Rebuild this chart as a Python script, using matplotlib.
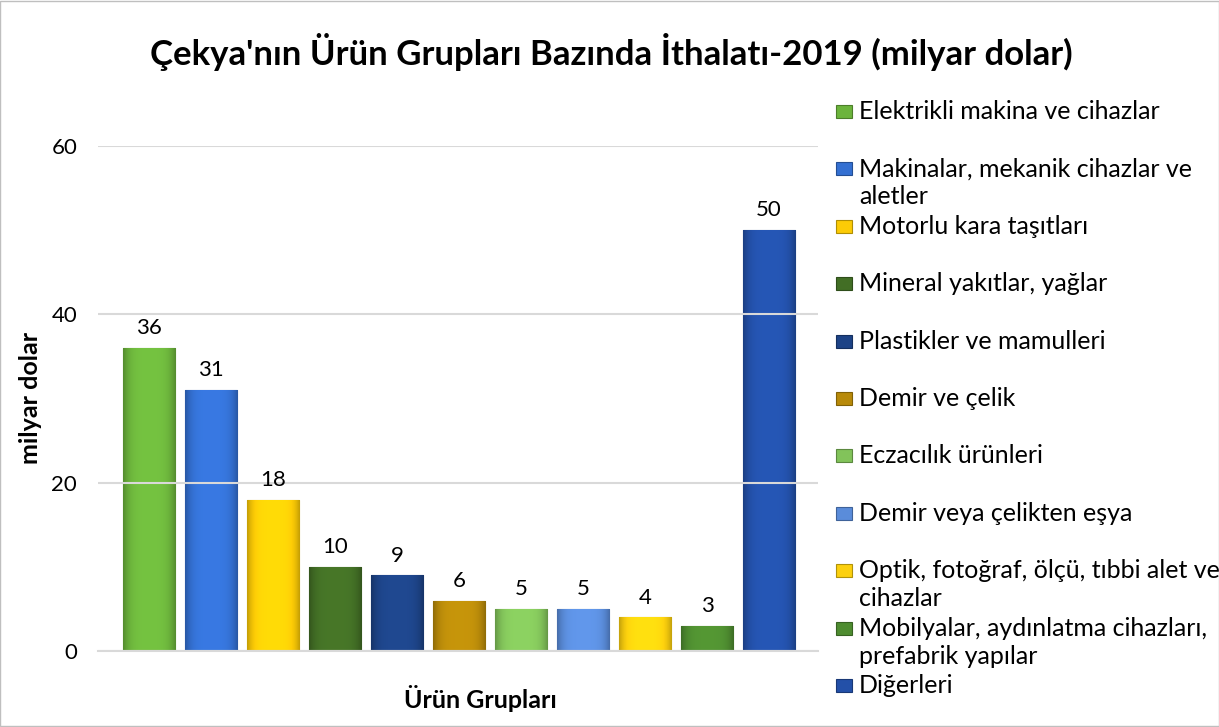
import numpy as np
import matplotlib.pyplot as plt
from matplotlib.colors import to_rgb
from matplotlib.patches import Rectangle

plt.rcParams['font.family'] = ['Lato', 'DejaVu Sans']

W, H = 1219, 727

title = "Çekya'nın Ürün Grupları Bazında İthalatı-2019 (milyar dolar)"
categories = [
    "Elektrikli makina ve cihazlar",
    "Makinalar, mekanik cihazlar ve\naletler",
    "Motorlu kara taşıtları",
    "Mineral yakıtlar, yağlar",
    "Plastikler ve mamulleri",
    "Demir ve çelik",
    "Eczacılık ürünleri",
    "Demir veya çelikten eşya",
    "Optik, fotoğraf, ölçü, tıbbi alet ve\ncihazlar",
    "Mobilyalar, aydınlatma cihazları,\nprefabrik yapılar",
    "Diğerleri",
]
values = [36, 31, 18, 10, 9, 6, 5, 5, 4, 3, 50]
colors = ['#6CB43C', '#3470D2', '#FCCB06', '#426E25', '#1D4386', '#B88A0A',
          '#82C35A', '#5A8CDA', '#FCD00E', '#4E8C30', '#2350A8']
yticks = [0, 20, 40, 60]


def fx(px):
    return px / W


def fy(py):
    return 1 - py / H


fig = plt.figure(figsize=(W / 100, H / 100), dpi=100)
ax = fig.add_axes([fx(98), fy(651), fx(720), 505 / H])

x = np.arange(len(values))
bars = ax.bar(x, values, width=0.84, color=colors, zorder=2)

# bevel-like shading: darker at the sides, lighter in the middle
t = np.linspace(-1, 1, 64)
shade = 1.08 - 0.3 * t ** 4
for b, c in zip(bars, colors):
    rgb = np.array(to_rgb(c))
    img = np.clip(rgb[None, None, :] * shade[None, :, None], 0, 1)
    im = ax.imshow(img, extent=[b.get_x(), b.get_x() + b.get_width(), 0, b.get_height()],
                   aspect='auto', zorder=2.1, interpolation='bicubic')
    im.set_clip_path(b)
    b.set_edgecolor(tuple(rgb * 0.75))
    b.set_linewidth(0.8)

ax.bar_label(bars, padding=7, fontsize=16)

ax.set_xlim(-0.82, 10.79)
ax.set_ylim(0, 60)
ax.set_yticks(yticks)
ax.set_xticks([])
ax.set_axisbelow(False)
ax.yaxis.grid(True, color='#D9D9D9', lw=1.5)
ax.tick_params(axis='y', length=0, pad=15, labelsize=16)
for s in ['top', 'right', 'left']:
    ax.spines[s].set_visible(False)
ax.spines['bottom'].set_color('#D9D9D9')
ax.spines['bottom'].set_linewidth(1.5)

fig.text(fx(611), fy(52), title, ha='center', va='center', fontsize=25, fontweight='bold')
fig.text(fx(31), fy(398), 'milyar dolar', ha='center', va='center', rotation=90,
         fontsize=18, fontweight='bold')
fig.text(fx(480), fy(698), 'Ürün Grupları', ha='center', va='center', fontsize=18,
         fontweight='bold')

# legend, one entry per category (baseline positions in px)
for i, (lab, c) in enumerate(zip(categories, colors)):
    yb = 119 + i * 57.4
    rgb = np.array(to_rgb(c))
    fig.add_artist(Rectangle((fx(836), fy(yb - 1)), 16 / W, 13 / H, transform=fig.transFigure,
                             facecolor=c, edgecolor=tuple(rgb * 0.7), lw=0.8))
    for j, line in enumerate(lab.split('\n')):
        fig.text(fx(859), fy(yb + j * 28), line, ha='left', va='baseline', fontsize=18)

fig.add_artist(Rectangle((0.0004, 0.0007), 0.9992, 0.9986, transform=fig.transFigure,
                         fill=False, edgecolor='#BFBFBF', lw=1))

fig.savefig('out.png', dpi=100)
